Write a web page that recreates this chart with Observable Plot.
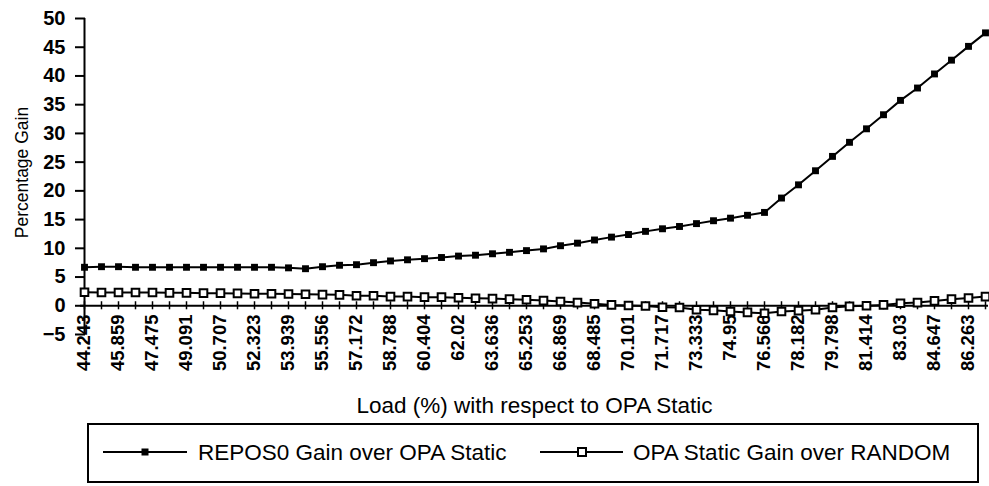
<!DOCTYPE html>
<html>
<head>
<meta charset="utf-8">
<script src="https://cdn.jsdelivr.net/npm/d3@7"></script>
<script src="https://cdn.jsdelivr.net/npm/@observablehq/plot@0.6"></script>
<style>
  html, body { margin: 0; padding: 0; background: #fff; }
  #wrap { position: relative; width: 989px; height: 486px; overflow: hidden; font-family: "Liberation Sans", Arial, sans-serif; }
  #legend { position: absolute; left: 87px; top: 423px; width: 888px; height: 56px; border: 2px solid #000; }
</style>
</head>
<body>
<div id="wrap">
  <div id="chart"></div>
  <div id="legend"></div>
</div>
<script>
const loads = ["44.243","45.051","45.859","46.667","47.475","48.283","49.091","49.899","50.707","51.515",
  "52.323","53.131","53.939","54.747","55.556","56.364","57.172","57.98","58.788","59.596",
  "60.404","61.212","62.02","62.828","63.636","64.444","65.253","66.061","66.869","67.677",
  "68.485","69.293","70.101","70.909","71.717","72.525","73.333","74.141","74.95","75.758",
  "76.566","77.374","78.182","78.99","79.798","80.606","81.414","82.222","83.03","83.838",
  "84.647","85.455","86.263","87.071"];
const tickLabels = ["44.243","45.859","47.475","49.091","50.707","52.323","53.939","55.556","57.172","58.788",
  "60.404","62.02","63.636","65.253","66.869","68.485","70.101","71.717","73.333","74.95",
  "76.566","78.182","79.798","81.414","83.03","84.647","86.263"];
const reposGain = [6.7,6.8,6.8,6.7,6.7,6.7,6.7,6.7,6.7,6.7,
  6.7,6.7,6.6,6.45,6.8,7.05,7.15,7.5,7.8,8.0,
  8.2,8.4,8.65,8.8,9.05,9.3,9.6,9.9,10.45,10.9,
  11.45,11.95,12.4,12.95,13.4,13.8,14.3,14.8,15.25,15.75,
  16.25,18.75,21.05,23.5,26.0,28.45,30.8,33.25,35.75,37.9,
  40.35,42.75,45.15,47.5];
const opaGain = [2.35,2.3,2.3,2.3,2.3,2.25,2.25,2.2,2.2,2.15,
  2.1,2.1,2.05,2.0,1.95,1.9,1.75,1.75,1.6,1.6,
  1.5,1.5,1.4,1.3,1.25,1.15,1.05,0.9,0.75,0.55,
  0.35,0.15,0.05,-0.05,-0.25,-0.3,-0.7,-0.8,-1.0,-1.15,
  -1.3,-1.0,-0.85,-0.7,-0.3,-0.1,0.0,0.15,0.45,0.55,
  0.85,1.15,1.35,1.6];
const yTicks = [-5,0,5,10,15,20,25,30,35,40,45,50];
const seriesNames = ["REPOS0 Gain over OPA Static", "OPA Static Gain over RANDOM"];

const repos = loads.map((l, i) => ({load: l, gain: reposGain[i]}));
const opa = loads.map((l, i) => ({load: l, gain: opaGain[i]}));

const chart = Plot.plot({
  width: 989,
  height: 415,
  marginLeft: 80,
  marginRight: 1,
  marginTop: 18,
  marginBottom: 81,
  style: {fontFamily: "Liberation Sans, Arial, sans-serif", background: "#fff", color: "#000", overflow: "visible"},
  x: {type: "point", domain: loads, padding: 0},
  y: {domain: [-5, 50]},
  marks: [
    Plot.ruleY([0], {stroke: "#000", strokeWidth: 2}),
    Plot.ruleX([loads[0]], {y1: -5, y2: 50, stroke: "#000", strokeWidth: 2}),
    Plot.ruleX(loads, {x: d => d, y1: -0.7, y2: 0.7, stroke: "#000", strokeWidth: 1.5}),
    Plot.axisY({ticks: yTicks, tickSize: 10, dx: 5, tickFormat: () => "", strokeWidth: 2, label: null}),
    Plot.axisY({ticks: yTicks, tickSize: 0, tickPadding: 15, fontSize: 20, fontWeight: "bold", label: null}),
    Plot.axisX({ticks: tickLabels, tickSize: 0, tickPadding: 0, dy: -20, tickRotate: -90, fontSize: 18.5, fontWeight: "bold", label: null}),
    Plot.text(["Load (%) with respect to OPA Static"], {text: d => d, frameAnchor: "bottom", lineAnchor: "bottom", dy: 78, fontSize: 22.5}),
    Plot.text(["Percentage Gain"], {text: d => d, frameAnchor: "left", textAnchor: "middle", lineAnchor: "middle", rotate: -90, dx: -58, dy: -4, fontSize: 17.5}),
    Plot.line(repos, {x: "load", y: "gain", stroke: "#000", strokeWidth: 2}),
    Plot.line(opa, {x: "load", y: "gain", stroke: "#000", strokeWidth: 2}),
    Plot.dot(repos, {x: "load", y: "gain", symbol: "square", r: 3.9, fill: "#000", stroke: "none"}),
    Plot.dot(opa, {x: "load", y: "gain", symbol: "square", r: 4.3, fill: "#fff", stroke: "#000", strokeWidth: 2})
  ]
});
document.getElementById("chart").appendChild(chart);

// Legend
const lg = d3.select("#legend").append("svg")
  .attr("width", 888).attr("height", 56)
  .style("position", "absolute").style("left", "0px").style("top", "0px");
const items = [
  {name: seriesNames[0], x0: 14, mid: 56, x1: 98, tx: 109, filled: true},
  {name: seriesNames[1], x0: 451, mid: 493, x1: 534, tx: 544, filled: false}
];
items.forEach(it => {
  lg.append("line").attr("x1", it.x0).attr("x2", it.x1).attr("y1", 27).attr("y2", 27)
    .attr("stroke", "#000").attr("stroke-width", 2);
  if (it.filled) {
    lg.append("rect").attr("x", it.mid - 3.5).attr("y", 23.5).attr("width", 7).attr("height", 7).attr("fill", "#000");
  } else {
    lg.append("rect").attr("x", it.mid - 4).attr("y", 23).attr("width", 8).attr("height", 8)
      .attr("fill", "#fff").attr("stroke", "#000").attr("stroke-width", 2);
  }
  lg.append("text").attr("x", it.tx).attr("y", 35).attr("font-size", 22.5)
    .attr("font-family", "Liberation Sans, Arial, sans-serif").text(it.name);
});
</script>
</body>
</html>
